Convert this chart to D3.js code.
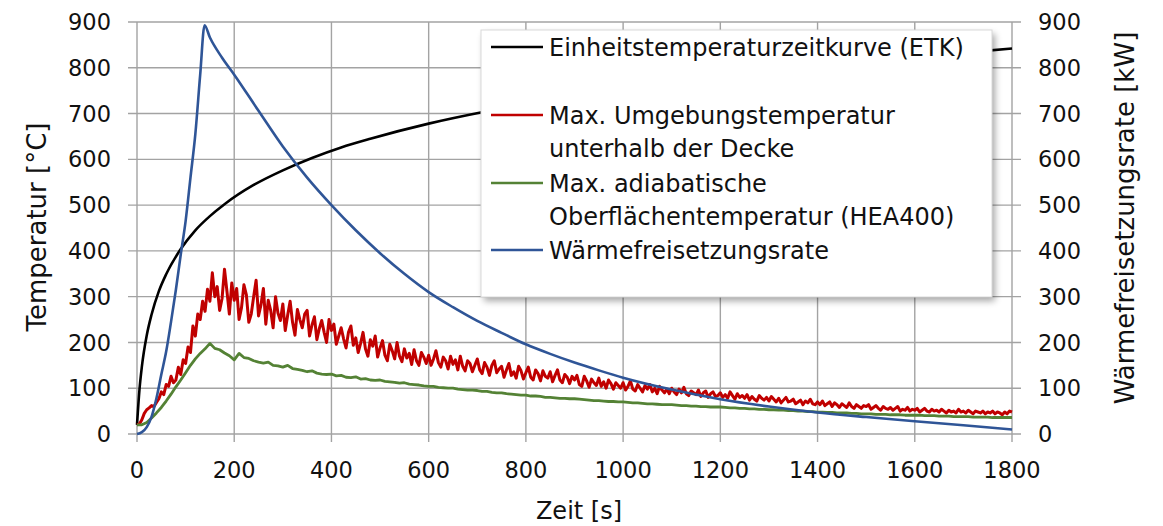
<!DOCTYPE html>
<html>
<head>
<meta charset="utf-8">
<script src="https://cdn.jsdelivr.net/npm/d3@7"></script>
<style>
  body { margin: 0; background: #fff; }
  svg { display: block; font-family: "DejaVu Sans", sans-serif; }
  .tick-label { font-size: 22.5px; fill: #111; }
  .axis-title { font-size: 26px; fill: #111; }
  .legend-text { font-size: 24px; fill: #111; }
  .grid line { stroke: #a3a3a3; stroke-width: 1.4; }
</style>
</head>
<body>
<svg id="chart" width="1163" height="526"></svg>
<script>
// ---- data ----
var xTicks = [0, 200, 400, 600, 800, 1000, 1200, 1400, 1600, 1800];
var yTicks = [0, 100, 200, 300, 400, 500, 600, 700, 800, 900];

// Einheitstemperaturzeitkurve (ETK)
var etkTime = [0, 5, 10, 20, 30, 45, 60, 90, 120, 150, 180, 240, 300, 360, 420, 480, 600, 720, 840, 960, 1080, 1200, 1320, 1440, 1560, 1680, 1800];
var etkTemp = [20, 96, 147, 215, 261, 312, 349, 404, 445, 476, 502, 544, 576, 603, 626, 645, 678, 705, 728, 748, 766, 781, 796, 809, 820, 831, 842];

// Wärmefreisetzungsrate [kW], right axis
var hrrTime = [0, 10, 20, 30, 40, 50, 60, 70, 80, 90, 100, 110, 120, 130, 139, 150, 175, 200, 250, 300, 350, 400, 450, 500, 550, 600, 650, 700, 750, 800, 850, 900, 950, 1000, 1100, 1200, 1300, 1400, 1500, 1600, 1700, 1800];
var hrrValue = [0, 4, 15, 38, 78, 130, 180, 245, 315, 392, 465, 560, 655, 785, 893, 866, 822, 785, 706, 628, 560, 500, 445, 395, 350, 310, 277, 247, 221, 196, 175, 156, 139, 123, 97, 76, 60, 47, 37, 28, 19, 10];

// Max. Umgebungstemperatur unterhalb der Decke, one value every 5 s
var ceilingStep = 5;
var ceilingTemp = [
  20, 22, 31, 45, 53, 57, 62, 60, 69, 77,
  92, 86, 108, 104, 126, 112, 118, 146, 130, 162,
  154, 190, 178, 236, 214, 262, 250, 290, 268, 316,
  290, 352, 300, 322, 270, 296, 360, 312, 262, 330,
  292, 318, 250, 276, 326, 304, 244, 262, 300, 336,
  258, 282, 318, 240, 292, 270, 232, 300, 264, 248,
  284, 226, 260, 290, 244, 216, 272, 250, 232, 262,
  270, 214, 238, 256, 206, 230, 248, 222, 200, 250,
  226, 240, 196, 214, 232, 208, 188, 222, 236, 194,
  210, 178, 198, 222, 186, 170, 206, 192, 214, 168,
  188, 204, 172, 160, 196, 182, 164, 200, 170, 158,
  186, 166, 176, 152, 184, 160, 150, 178, 168, 154,
  172, 150, 164, 182, 156, 146, 168, 160, 142, 170,
  152, 162, 140, 170, 148, 138, 160, 154, 136, 150,
  164, 140, 132, 156, 146, 128, 150, 160, 134, 142,
  148, 124, 140, 154, 128, 136, 122, 148, 138, 120,
  134, 146, 124, 118, 140, 132, 116, 138, 126, 122,
  136, 114, 128, 140, 118, 112, 130, 124, 110, 126,
  118, 128, 108, 104, 126, 116, 102, 120, 112, 106,
  122, 104, 114, 100, 118, 110, 98, 112, 106, 100,
  112, 96, 104, 116, 98, 94, 108, 100, 92, 106,
  98, 108, 92, 100, 88, 104, 96, 90, 98, 88,
  100, 92, 86, 98, 90, 102, 88, 84, 94, 90,
  86, 96, 82, 90, 94, 80, 88, 92, 82, 84,
  90, 80, 86, 78, 92, 84, 76, 88, 80, 84,
  78, 86, 74, 82, 76, 72, 84, 78, 74, 80,
  72, 82, 76, 70, 78, 68, 74, 80, 70, 72,
  76, 66, 70, 74, 64, 72, 68, 76, 66, 64,
  70, 64, 72, 62, 66, 70, 60, 68, 64, 58,
  66, 62, 58, 68, 60, 56, 64, 60, 56, 62,
  60, 64, 54, 58, 62, 56, 52, 60, 56, 54,
  58, 52, 56, 60, 50, 54, 52, 58, 50, 54,
  52, 56, 48, 52, 56, 50, 48, 54, 50, 52,
  48, 54, 50, 46, 52, 48, 50, 46, 54, 48,
  50, 46, 52, 48, 44, 50, 48, 46, 50, 44,
  48, 46, 50, 44, 48, 46, 42, 48, 44, 50,
  48
];

// Max. adiabatische Oberflächentemperatur (HEA400), one value every 10 s
var surfaceStep = 10;
var surfaceTemp = [
  20, 20, 25, 35, 46, 58, 72, 87, 103, 118,
  134, 150, 164, 176, 186, 198, 187, 184, 177, 171,
  162, 176, 167, 165, 160, 157, 155, 157, 150, 149,
  146, 150, 143, 141, 139, 136, 138, 133, 131, 130,
  131, 127, 128, 124, 123, 125, 120, 121, 118, 117,
  118, 115, 114, 113, 111, 112, 109, 108, 107, 105,
  104, 104, 102, 101, 100, 100, 98, 97, 96, 96,
  95, 93, 93, 91, 90, 90, 88, 87, 86, 85,
  85, 83, 83, 82, 80, 80, 79, 78, 78, 77,
  77, 76, 75, 74, 73, 73, 72, 71, 71, 70,
  70, 69, 68, 68, 67, 66, 66, 65, 64, 64,
  64, 63, 62, 62, 61, 61, 60, 60, 59, 59,
  59, 58, 57, 57, 56, 56, 55, 55, 54, 54,
  53, 53, 52, 52, 51, 51, 50, 50, 49, 49,
  48, 48, 47, 47, 46, 46, 46, 45, 45, 44,
  44, 44, 43, 43, 43, 42, 42, 42, 41, 41,
  41, 41, 40, 40, 40, 39, 39, 39, 38, 38,
  38, 38, 37, 37, 37, 37, 36, 36, 36, 36,
  36
];

var legendLabels = [
  ["Einheitstemperaturzeitkurve (ETK)"],
  ["Max. Umgebungstemperatur", "unterhalb der Decke"],
  ["Max. adiabatische", "Oberflächentemperatur (HEA400)"],
  ["Wärmefreisetzungsrate"]
];
var seriesColors = ["#000000", "#c00000", "#548235", "#2f5597"];

// ---- layout ----
var svg = d3.select("#chart");
var plotLeft = 137, plotRight = 1012, plotTop = 22, plotBottom = 434;

var x = d3.scaleLinear().domain([0, 1800]).range([plotLeft, plotRight]);
var y = d3.scaleLinear().domain([0, 900]).range([plotBottom, plotTop]);
var y2 = d3.scaleLinear().domain([0, 900]).range([plotBottom, plotTop]);

// grid + tick marks
var grid = svg.append("g").attr("class", "grid");
grid.selectAll(".h").data(yTicks).enter().append("line")
  .attr("x1", plotLeft - 9).attr("x2", plotRight + 9)
  .attr("y1", function (d) { return y(d); }).attr("y2", function (d) { return y(d); });
grid.selectAll(".v").data(xTicks).enter().append("line")
  .attr("x1", function (d) { return x(d); }).attr("x2", function (d) { return x(d); })
  .attr("y1", plotTop).attr("y2", plotBottom + 8);

// tick labels
svg.append("g").selectAll("text").data(yTicks).enter().append("text")
  .attr("class", "tick-label").attr("text-anchor", "end")
  .attr("x", plotLeft - 26).attr("y", function (d) { return y(d); }).attr("dy", "0.36em")
  .text(function (d) { return d; });
svg.append("g").selectAll("text").data(yTicks).enter().append("text")
  .attr("class", "tick-label").attr("text-anchor", "start")
  .attr("x", plotRight + 26).attr("y", function (d) { return y2(d); }).attr("dy", "0.36em")
  .text(function (d) { return d; });
svg.append("g").selectAll("text").data(xTicks).enter().append("text")
  .attr("class", "tick-label").attr("text-anchor", "middle")
  .attr("x", function (d) { return x(d); }).attr("y", 470).attr("dy", "0.36em")
  .text(function (d) { return d; });

// axis titles
svg.append("text").attr("class", "axis-title").attr("text-anchor", "middle")
  .attr("transform", "translate(37,227) rotate(-90)").attr("dy", "0.36em")
  .text("Temperatur [°C]");
svg.append("text").attr("class", "axis-title").attr("text-anchor", "middle")
  .attr("transform", "translate(1125,218) rotate(-90)").attr("dy", "0.36em")
  .text("Wärmefreisetzungsrate [kW]");
svg.append("text").attr("class", "axis-title").attr("text-anchor", "middle")
  .style("font-size", "24px")
  .attr("x", 579).attr("y", 510).attr("dy", "0.36em")
  .text("Zeit [s]");

// series
var lineGen = d3.line().x(function (d) { return x(d[0]); }).y(function (d) { return y(d[1]); });
var lineGen2 = d3.line().x(function (d) { return x(d[0]); }).y(function (d) { return y2(d[1]); });

var etkData = etkTime.map(function (t, i) { return [t, etkTemp[i]]; });
var ceilingData = ceilingTemp.map(function (v, i) { return [i * ceilingStep, v]; });
var surfaceData = surfaceTemp.map(function (v, i) { return [i * surfaceStep, v]; });
var hrrData = hrrTime.map(function (t, i) { return [t, hrrValue[i]]; });

var plot = svg.append("g").attr("fill", "none").attr("stroke-linejoin", "round");
plot.append("path").attr("d", lineGen.curve(d3.curveMonotoneX)(etkData))
  .attr("stroke", seriesColors[0]).attr("stroke-width", 2.6);
plot.append("path").attr("d", lineGen.curve(d3.curveLinear)(ceilingData))
  .attr("stroke", seriesColors[1]).attr("stroke-width", 3);
plot.append("path").attr("d", lineGen.curve(d3.curveLinear)(surfaceData))
  .attr("stroke", seriesColors[2]).attr("stroke-width", 2.8);
plot.append("path").attr("d", lineGen2.curve(d3.curveMonotoneX)(hrrData))
  .attr("stroke", seriesColors[3]).attr("stroke-width", 2.6);

// legend
var defs = svg.append("defs");
var f = defs.append("filter").attr("id", "shadow").attr("x", "-10%").attr("y", "-10%").attr("width", "130%").attr("height", "130%");
f.append("feGaussianBlur").attr("stdDeviation", 3.5);

var lx = 481, ly = 30, lw = 511, lh = 267;
svg.append("rect").attr("x", lx + 3).attr("y", ly + 4).attr("width", lw).attr("height", lh)
  .attr("fill", "#000").attr("opacity", 0.35).attr("filter", "url(#shadow)");
svg.append("rect").attr("x", lx).attr("y", ly).attr("width", lw).attr("height", lh)
  .attr("fill", "#fff").attr("stroke", "#d9d9d9").attr("stroke-width", 1);

var rowY = [47, 115, 183, 250];
var lineGap = 33;
legendLabels.forEach(function (lines, i) {
  svg.append("line").attr("x1", 491).attr("x2", 543).attr("y1", rowY[i]).attr("y2", rowY[i])
    .attr("stroke", seriesColors[i]).attr("stroke-width", 2.6);
  lines.forEach(function (txt, j) {
    svg.append("text").attr("class", "legend-text")
      .attr("x", 549).attr("y", rowY[i] + j * lineGap).attr("dy", "0.36em")
      .text(txt);
  });
});
</script>
</body>
</html>
